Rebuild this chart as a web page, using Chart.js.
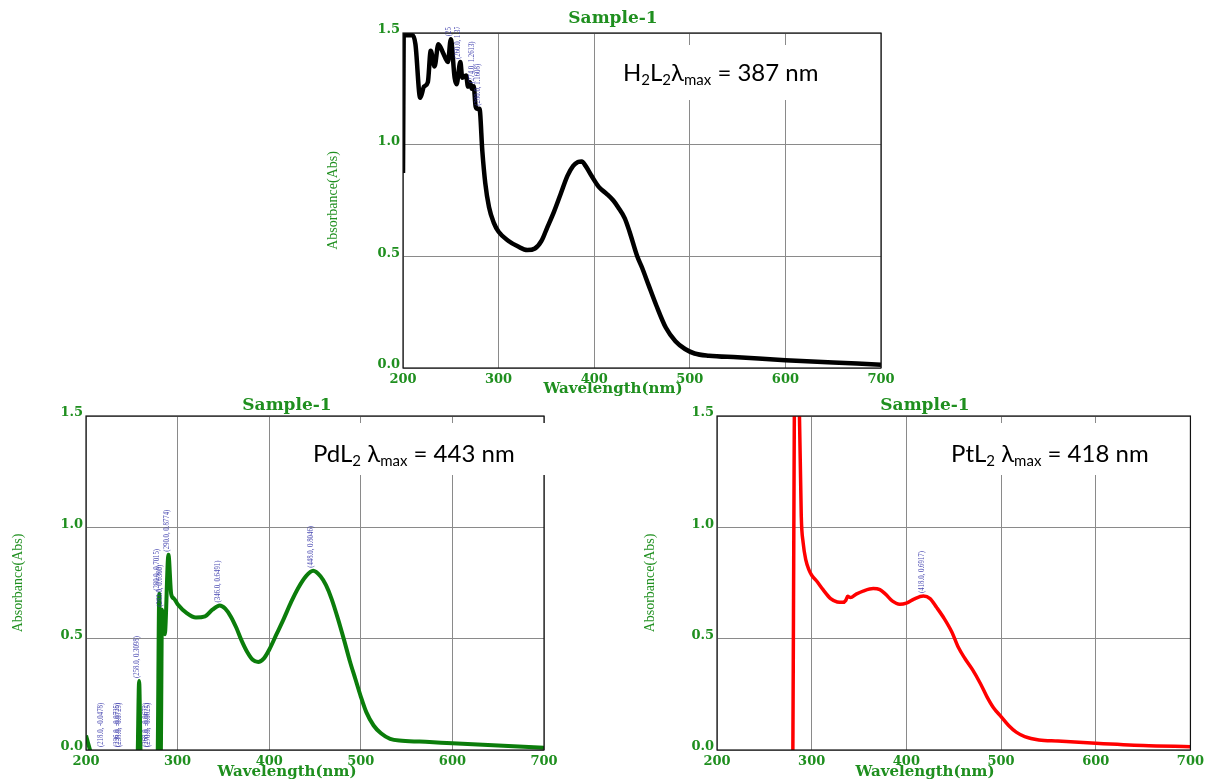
<!DOCTYPE html>
<html>
<head>
<meta charset="utf-8">
<script src="https://cdn.jsdelivr.net/npm/chart.js@4.4.1/dist/chart.umd.min.js"></script>
<style>
  html, body { margin: 0; padding: 0; background: #fff; }
  body { width: 1208px; height: 782px; position: relative; overflow: hidden; }
  canvas { position: absolute; }
</style>
</head>
<body>
<canvas id="chartH2L2" width="586" height="400" style="left:320px;top:0px"></canvas>
<canvas id="chartPdL2" width="574" height="387" style="left:0px;top:395px"></canvas>
<canvas id="chartPtL2" width="566" height="387" style="left:642px;top:395px"></canvas>
<script>
// ---- axis ticks ----
const wavelengthTicks = [200, 300, 400, 500, 600, 700];
const absorbanceTicks = [0.0, 0.5, 1.0, 1.5];

// ---- H2L2 spectrum ----
const h2l2Wavelength = [200, 201, 202, 204, 210, 213, 218, 222, 226, 229, 233, 237, 242, 247, 250, 254, 256,
  260, 262, 266, 268, 270, 272, 274, 276, 278, 280, 283, 286, 290, 295, 300, 310, 320, 330, 338, 345, 350,
  358, 365, 372, 378, 383, 387, 391, 398, 405, 413, 420, 425, 432, 437, 445, 450, 457, 465, 475, 485, 495,
  505, 520, 550, 600, 650, 700];
const h2l2Absorbance = [0.873, 1.60, 1.56, 1.49, 1.49, 1.45, 1.21, 1.26, 1.28, 1.42, 1.35, 1.45, 1.41, 1.37, 1.4721, 1.30, 1.27,
  1.3702, 1.30, 1.31, 1.26, 1.28, 1.25, 1.2613, 1.17, 1.16, 1.1608, 0.97, 0.83, 0.72, 0.65, 0.61, 0.57, 0.545, 0.528, 0.535, 0.57, 0.62,
  0.70, 0.78, 0.86, 0.905, 0.922, 0.925, 0.905, 0.855, 0.81, 0.78, 0.75, 0.72, 0.67, 0.61, 0.50, 0.45, 0.37, 0.28, 0.18, 0.12, 0.085,
  0.065, 0.055, 0.048, 0.035, 0.025, 0.015];
const h2l2Peaks = [250, 260, 274, 280];

// ---- PdL2 spectrum ----
const pdWavelength = [200, 202, 204, 206, 210, 218, 228, 236, 238, 248, 256, 258, 260, 268, 270, 278, 280, 281.5,
  283, 286, 290, 293, 296, 300, 310, 320, 330, 338, 346, 352, 358, 364, 370, 376, 382, 388, 394, 400, 408, 416,
  424, 432, 440, 448, 456, 462, 468, 475, 482, 488, 494, 500, 506, 514, 522, 532, 545, 575, 600, 650, 700];
const pdAbsorbance = [0.065, 0.035, 0.005, -0.025, -0.04, -0.0478, -0.06, -0.0725, -0.0729, -0.07, -0.07, 0.3098, -0.07, -0.0672, -0.0625, -0.06, 0.7015, -0.05,
  0.63, 0.52, 0.8774, 0.70, 0.68, 0.655, 0.615, 0.595, 0.60, 0.63, 0.6491, 0.635, 0.60, 0.55, 0.49, 0.44, 0.405, 0.395, 0.41, 0.45, 0.52, 0.59,
  0.665, 0.73, 0.78, 0.8046, 0.78, 0.74, 0.68, 0.59, 0.49, 0.40, 0.32, 0.24, 0.17, 0.11, 0.075, 0.05, 0.042, 0.036, 0.03, 0.02, 0.01];
const pdPeaks = [218, 236, 238, 258, 268, 270, 280, 283, 290, 346, 448];

// ---- PtL2 spectrum ----
const ptWavelength = [280, 283, 285, 289, 291, 294, 297, 300, 305, 312, 320, 327, 333, 336, 338, 341, 347, 355, 365,
  372, 378, 385, 393, 400, 408, 418, 425, 432, 440, 448, 455, 462, 470, 478, 485, 492, 500, 508, 516, 525, 540,
  560, 600, 650, 700];
const ptAbsorbance = [-0.10, 2.20, 2.00, 1.05, 0.93, 0.85, 0.81, 0.785, 0.76, 0.72, 0.68, 0.665, 0.663, 0.672, 0.69, 0.685, 0.70, 0.715, 0.725,
  0.72, 0.70, 0.67, 0.655, 0.66, 0.678, 0.6917, 0.68, 0.64, 0.59, 0.53, 0.46, 0.41, 0.36, 0.30, 0.24, 0.19, 0.15, 0.11, 0.08, 0.06, 0.045,
  0.04, 0.03, 0.02, 0.015];
const ptPeaks = [418];

// ---- captions (plain text plus subscript runs) ----
const h2l2Caption = [['H'], ['2', 1], ['L'], ['2', 1], ['λ'], ['max', 1], [' = 387 nm']];
const pdCaption = [['PdL'], ['2', 1], [' λ'], ['max', 1], [' = 443 nm']];
const ptCaption = [['PtL'], ['2', 1], [' λ'], ['max', 1], [' = 418 nm']];

const GREEN_TEXT = '#1f8f1f';
const SERIF_BOLD = "'DejaVu Serif'";

function pairs(xs, ys) { return xs.map((x, i) => ({ x, y: ys[i] })); }

// frame, rotated peak labels and the white caption panel
const spectrumDecor = {
  id: 'spectrumDecor',
  afterDatasetsDraw(chart, args, opts) {
    const { ctx, chartArea: a, scales: { x, y } } = chart;
    ctx.save();
    ctx.strokeStyle = '#111';
    ctx.lineWidth = 1.2;
    ctx.strokeRect(a.left, a.top, a.right - a.left, a.bottom - a.top);
    ctx.restore();

    const pts = chart.data.datasets[0].data;
    ctx.save();
    ctx.beginPath();
    ctx.rect(a.left, a.top - 6, a.right - a.left, a.bottom - a.top + 6);
    ctx.clip();
    ctx.fillStyle = 'rgba(55,55,170,0.9)';
    ctx.font = "8px 'Liberation Serif'";
    ctx.textAlign = 'left';
    ctx.textBaseline = 'middle';
    for (const wl of opts.peaks) {
      const p = pts.find(d => d.x === wl);
      const label = '(' + wl.toFixed(1) + ', ' + p.y.toFixed(4) + ')';
      const px = x.getPixelForValue(wl) - 2;
      const py = Math.min(y.getPixelForValue(p.y), a.bottom) - 3;
      ctx.save();
      ctx.translate(px, py);
      ctx.rotate(-Math.PI / 2);
      ctx.scale(0.85, 1);
      ctx.fillText(label, 0, 0);
      ctx.restore();
    }
    ctx.restore();

    const b = opts.box;
    ctx.save();
    ctx.fillStyle = '#fff';
    ctx.fillRect(b.x, b.y, b.w, b.h);
    ctx.fillStyle = '#000';
    ctx.textAlign = 'left';
    ctx.textBaseline = 'alphabetic';
    let cx = opts.textX;
    for (const [t, sub] of opts.caption) {
      ctx.font = sub ? "15px Lato" : "24px Lato";
      ctx.fillText(t, cx, opts.baseline + (sub ? 4 : 0));
      cx += ctx.measureText(t).width;
    }
    ctx.restore();
  }
};

function buildChart(id, cfg) {
  return new Chart(document.getElementById(id), {
    type: 'line',
    data: {
      datasets: [{
        data: pairs(cfg.wavelength, cfg.absorbance),
        borderColor: cfg.color,
        borderWidth: cfg.lineWidth,
        pointRadius: 0,
        fill: false,
        cubicInterpolationMode: 'monotone'
      }]
    },
    options: {
      responsive: false,
      animation: false,
      devicePixelRatio: 1,
      layout: { padding: 0 },
      plugins: {
        legend: { display: false },
        tooltip: { enabled: false },
        title: {
          display: true, text: 'Sample-1', color: GREEN_TEXT,
          font: { family: SERIF_BOLD, size: 17, weight: 'bold', lineHeight: 1.2 },
          padding: cfg.titlePad
        },
        subtitle: {
          display: true, position: 'bottom', text: 'Wavelength(nm)', color: GREEN_TEXT,
          font: { family: SERIF_BOLD, size: 15, weight: 'bold', lineHeight: 1.2 },
          padding: cfg.subPad
        },
        spectrumDecor: { peaks: cfg.peaks, box: cfg.box, caption: cfg.caption, textX: cfg.textX, baseline: cfg.baseline }
      },
      scales: {
        x: {
          type: 'linear', min: 200, max: 700,
          afterBuildTicks: s => { s.ticks = wavelengthTicks.map(v => ({ value: v })); },
          afterFit: s => { s.height = 20; },
          grid: { color: '#8a8a8a', lineWidth: 1, drawTicks: false },
          border: { display: false },
          ticks: {
            color: GREEN_TEXT, padding: 4, maxRotation: 0, autoSkip: false,
            font: { family: SERIF_BOLD, size: 13, weight: 'bold' },
            callback: v => String(v)
          }
        },
        y: {
          type: 'linear', min: 0, max: 1.5,
          afterBuildTicks: s => { s.ticks = absorbanceTicks.map(v => ({ value: v })); },
          afterFit: s => { s.width = cfg.yAxisWidth; },
          grid: { color: '#8a8a8a', lineWidth: 1, drawTicks: false },
          border: { display: false },
          ticks: {
            color: GREEN_TEXT, padding: 3, labelOffset: -3, autoSkip: false,
            font: { family: SERIF_BOLD, size: 13, weight: 'bold' },
            callback: v => Number(v).toFixed(1)
          },
          title: {
            display: true, text: 'Absorbance(Abs)', color: GREEN_TEXT,
            font: { family: "'Liberation Serif'", size: 14, weight: 'normal' },
            padding: { top: cfg.yTitlePad, bottom: 0 }
          }
        },
        // blank margin on the right of the plot
        margin: {
          type: 'linear', position: 'right', display: true,
          afterFit: s => { s.width = cfg.rightPad; },
          grid: { display: false }, border: { display: false },
          ticks: { display: false }
        }
      }
    },
    plugins: [spectrumDecor]
  });
}

buildChart('chartH2L2', {
  wavelength: h2l2Wavelength, absorbance: h2l2Absorbance, peaks: h2l2Peaks, caption: h2l2Caption,
  color: '#000000', lineWidth: 4.5,
  rightPad: 25, yAxisWidth: 83, yTitlePad: 4.6,
  titlePad: { top: 8.8, bottom: 3.8 }, subPad: { top: -8, bottom: 2 },
  box: { x: 285, y: 45, w: 230, h: 55 }, textX: 303, baseline: 81
});

buildChart('chartPdL2', {
  wavelength: pdWavelength, absorbance: pdAbsorbance, peaks: pdPeaks, caption: pdCaption,
  color: '#0b7d0b', lineWidth: 4,
  rightPad: 30, yAxisWidth: 86, yTitlePad: 9.6,
  titlePad: { top: 0, bottom: 0.6 }, subPad: { top: -7, bottom: 1 },
  box: { x: 300, y: 28, w: 252, h: 52 }, textX: 313, baseline: 67
});

buildChart('chartPtL2', {
  wavelength: ptWavelength, absorbance: ptAbsorbance, peaks: ptPeaks, caption: ptCaption,
  color: '#ff0000', lineWidth: 3.5,
  rightPad: 12, yAxisWidth: 75, yTitlePad: 0,
  titlePad: { top: 0, bottom: 0.6 }, subPad: { top: -7, bottom: 1 },
  box: { x: 293, y: 28, w: 235, h: 52 }, textX: 309, baseline: 67
});
</script>
</body>
</html>
